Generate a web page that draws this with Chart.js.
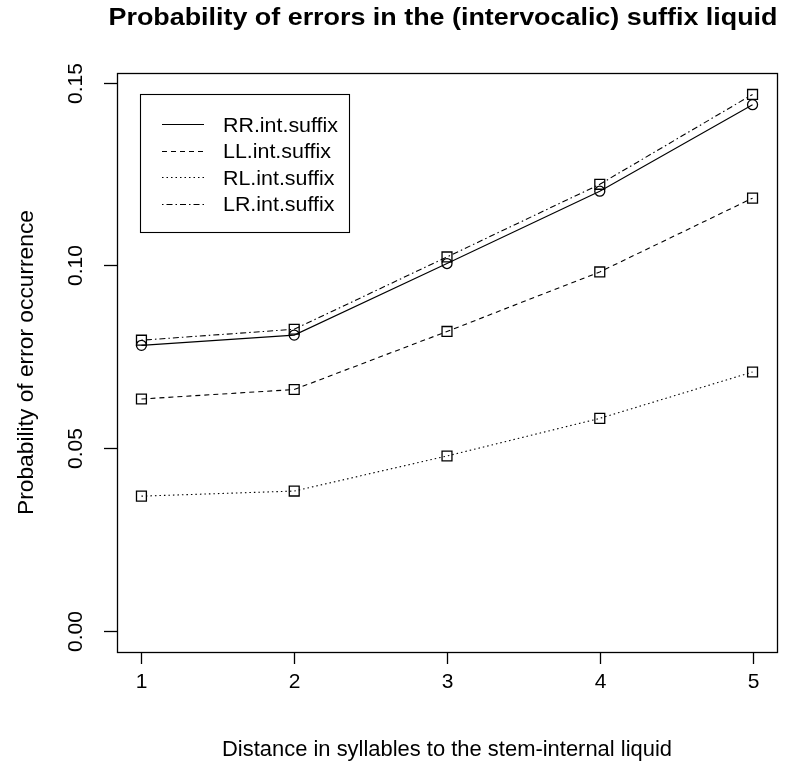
<!DOCTYPE html>
<html>
<head>
<meta charset="utf-8">
<script src="https://cdn.jsdelivr.net/npm/chart.js@4"></script>
<style>
  html, body { margin: 0; padding: 0; background: #fff; }
  #wrap { width: 791px; height: 763px; }
</style>
</head>
<body>
<div id="wrap"><canvas id="myChart" width="791" height="763"></canvas></div>
<script>
// distance in syllables
const distances = [1, 2, 3, 4, 5];

// probability of error, one array per condition
const rrValues = [0.0781, 0.0809, 0.1005, 0.1203, 0.1440];
const llValues = [0.0634, 0.0660, 0.0819, 0.0982, 0.1184];
const rlValues = [0.0368, 0.0382, 0.0478, 0.0581, 0.0708];
const lrValues = [0.0795, 0.0825, 0.1023, 0.1222, 0.1468];

const seriesNames = ['RR.int.suffix', 'LL.int.suffix', 'RL.int.suffix', 'LR.int.suffix'];

const xTicks = [1, 2, 3, 4, 5];
const yTicks = [0, 0.05, 0.10, 0.15];
const yTickLabels = ['0.00', '0.05', '0.10', '0.15'];

const titleText = 'Probability of errors in the (intervocalic) suffix liquid';
const xTitle = 'Distance in syllables to the stem-internal liquid';
const yTitle = 'Probability of error occurrence';

const dashes = [[], [5, 4], [1.5, 3], [1.5, 3, 6, 3]];
const shapes = ['circle', 'rect', 'rect', 'rect'];

// R style axis range: data range plus 4% each side
const yMaxData = Math.max(...rrValues, ...llValues, ...rlValues, ...lrValues);
const yPad = yMaxData * 0.04;
const xPad = (distances[distances.length - 1] - distances[0]) * 0.04;

function toPoints(vals) {
    return vals.map((v, i) => ({ x: distances[i], y: v }));
}

const allValues = [rrValues, llValues, rlValues, lrValues];
const datasets = allValues.map((vals, i) => ({
    label: seriesNames[i],
    data: toPoints(vals),
    borderColor: '#000',
    borderWidth: 1.1,
    borderDash: dashes[i],
    pointStyle: shapes[i],
    pointRadius: shapes[i] === 'circle' ? 5 : 7,
    pointBorderWidth: 1.3,
    pointBorderColor: '#000',
    pointBackgroundColor: 'rgba(0,0,0,0)',
    showLine: true,
    fill: false,
    tension: 0
}));

const FONT = '"Liberation Sans", Arial, sans-serif';

// text squeezed/stretched sideways to the width seen in the original
function wideText(ctx, text, x, y, width) {
    const w = ctx.measureText(text).width;
    const sx = width ? width / w : 1;
    ctx.save();
    ctx.translate(x, y);
    ctx.scale(sx, 1);
    ctx.fillText(text, 0, 0);
    ctx.restore();
}

// draws the R-like frame, axes, texts and legend
const rDecor = {
    id: 'rDecor',
    afterDraw(chart) {
        const ctx = chart.ctx;
        const area = chart.chartArea;
        const xs = chart.scales.x;
        const ys = chart.scales.y;
        ctx.save();
        ctx.strokeStyle = '#000';
        ctx.fillStyle = '#000';
        ctx.lineWidth = 1.3;
        ctx.setLineDash([]);

        // box
        ctx.strokeRect(area.left + 0.5, area.top + 0.5, area.right - area.left, area.bottom - area.top);

        // x axis ticks
        ctx.font = '21px ' + FONT;
        ctx.textAlign = 'center';
        ctx.textBaseline = 'middle';
        xTicks.forEach(t => {
            const px = Math.round(xs.getPixelForValue(t)) + 0.5;
            ctx.beginPath();
            ctx.moveTo(px, area.bottom);
            ctx.lineTo(px, area.bottom + 12);
            ctx.stroke();
            ctx.fillText(String(t), px, area.bottom + 30);
        });

        // y axis ticks, labels turned like R
        yTicks.forEach((t, i) => {
            const py = Math.round(ys.getPixelForValue(t)) + 0.5;
            ctx.beginPath();
            ctx.moveTo(area.left, py);
            ctx.lineTo(area.left - 13, py);
            ctx.stroke();
            ctx.save();
            ctx.translate(area.left - 41, py);
            ctx.rotate(-Math.PI / 2);
            ctx.fillText(yTickLabels[i], 0, 0);
            ctx.restore();
        });

        // titles
        const cx = (area.left + area.right) / 2;
        const cy = (area.top + area.bottom) / 2;
        ctx.font = '22px ' + FONT;
        wideText(ctx, xTitle, cx, 750, 450);
        ctx.save();
        ctx.translate(27, cy);
        ctx.rotate(-Math.PI / 2);
        wideText(ctx, yTitle, 0, 0, 305);
        ctx.restore();

        ctx.font = 'bold 23px ' + FONT;
        wideText(ctx, titleText, cx - 4, 19, 669);

        // legend
        ctx.lineWidth = 1.1;
        ctx.strokeRect(140.5, 94.5, 209, 138);
        ctx.font = '20px ' + FONT;
        ctx.textAlign = 'left';
        seriesNames.forEach((name, i) => {
            const ly = 126 + i * 26.5;
            ctx.setLineDash(dashes[i]);
            ctx.beginPath();
            ctx.moveTo(162, Math.round(ly - 2) + 0.5);
            ctx.lineTo(204, Math.round(ly - 2) + 0.5);
            ctx.stroke();
            ctx.setLineDash([]);
            ctx.save();
            ctx.translate(223, ly);
            ctx.scale(1.07, 1);
            ctx.fillText(name, 0, 0);
            ctx.restore();
        });
        ctx.restore();
    }
};

const ctx = document.getElementById('myChart').getContext('2d');
new Chart(ctx, {
    type: 'scatter',
    data: { datasets: datasets },
    options: {
        responsive: false,
        animation: false,
        layout: { padding: { left: 117, top: 73, right: 14, bottom: 111 } },
        plugins: {
            legend: { display: false },
            title: { display: false },
            tooltip: { enabled: false }
        },
        scales: {
            x: {
                type: 'linear',
                display: false,
                min: distances[0] - xPad,
                max: distances[distances.length - 1] + xPad
            },
            y: {
                type: 'linear',
                display: false,
                min: 0 - yPad,
                max: yMaxData + yPad
            }
        }
    },
    plugins: [rDecor]
});
</script>
</body>
</html>
